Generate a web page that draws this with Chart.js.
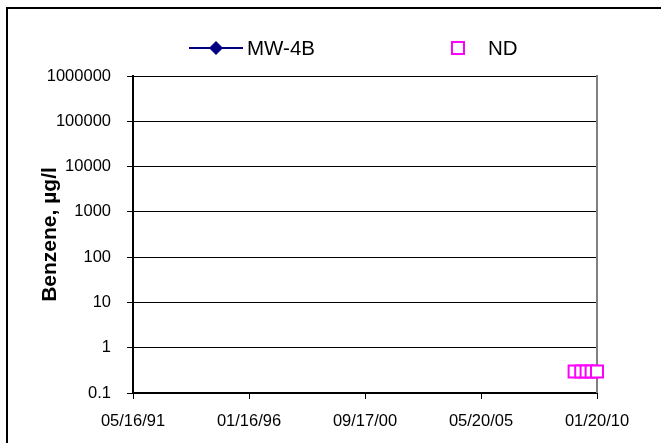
<!DOCTYPE html>
<html>
<head>
<meta charset="utf-8">
<script src="https://cdn.jsdelivr.net/npm/chart.js@4.4.1/dist/chart.umd.min.js"></script>
<style>
  body { margin: 0; background: #fff; overflow: hidden; }
  .frame { position: absolute; left: 6px; top: 7px; width: 700px; height: 500px; border: 2px solid #000; }
  .wrap { position: absolute; left: 0; top: 0; width: 661px; height: 443px; }
</style>
</head>
<body>
<div class="frame"></div>
<div class="wrap"><canvas id="myChart"></canvas></div>
<script>
// data
const xTickLabels = ['05/16/91', '01/16/96', '09/17/00', '05/20/05', '01/20/10'];
const yTickValues = [0.1, 1, 10, 100, 1000, 10000, 100000, 1000000];
const mw4bDates = [];
const mw4bValues = [];
const ndDates = ['02/25/09', '06/02/09', '08/20/09', '11/02/09', '01/20/10'];
const ndValues = [0.3, 0.3, 0.3, 0.3, 0.3];

const fontFamily = '"Liberation Sans", Arial, sans-serif';

// 'MM/DD/YY' -> day number
function toDay(s) {
    let p = s.split('/').map(Number);
    let year = p[2] < 50 ? 2000 + p[2] : 1900 + p[2];
    return Date.UTC(year, p[0] - 1, p[1]) / 86400000;
}

function points(dates, values) {
    return dates.map((d, i) => ({ x: toDay(d), y: values[i] }));
}

// gray right edge of the plot area
const plotBorder = {
    id: 'plotBorder',
    beforeDatasetsDraw(chart) {
        const { ctx, chartArea } = chart;
        ctx.save();
        ctx.strokeStyle = '#808080';
        ctx.lineWidth = 2;
        ctx.beginPath();
        ctx.moveTo(chartArea.right, chartArea.top - 1);
        ctx.lineTo(chartArea.right, chartArea.bottom);
        ctx.stroke();
        ctx.restore();
    }
};

// legend: line with diamond, and hollow square
const legendBox = {
    id: 'legendBox',
    afterDraw(chart) {
        const ctx = chart.ctx;
        const mw = chart.data.datasets[0];
        const nd = chart.data.datasets[1];
        const y = 48;
        ctx.save();
        ctx.strokeStyle = mw.borderColor;
        ctx.lineWidth = 2;
        ctx.beginPath();
        ctx.moveTo(189, y);
        ctx.lineTo(243, y);
        ctx.stroke();
        ctx.fillStyle = mw.pointBackgroundColor;
        ctx.beginPath();
        ctx.moveTo(216, y - 7);
        ctx.lineTo(223, y);
        ctx.lineTo(216, y + 7);
        ctx.lineTo(209, y);
        ctx.closePath();
        ctx.fill();

        ctx.strokeStyle = nd.pointBorderColor;
        ctx.lineWidth = 2;
        ctx.strokeRect(452, y - 6, 12, 12);

        ctx.fillStyle = '#000';
        ctx.font = '20.5px ' + fontFamily;
        ctx.textBaseline = 'middle';
        ctx.fillText(mw.label, 247, y + 1);
        ctx.fillText(nd.label, 488, y + 1);
        ctx.restore();
    }
};

let ctx = document.getElementById('myChart').getContext('2d');
let chart = new Chart(ctx, {
    type: 'line',
    data: {
        datasets: [{
            label: 'MW-4B',
            data: points(mw4bDates, mw4bValues),
            borderColor: '#000080',
            pointBackgroundColor: '#000080',
            pointBorderColor: '#000080',
            pointStyle: 'rectRot',
            pointRadius: 6,
            borderWidth: 2
        }, {
            label: 'ND',
            data: points(ndDates, ndValues),
            showLine: false,
            clip: false,
            pointStyle: 'rect',
            pointRadius: 8.5,
            pointBorderWidth: 2,
            pointBorderColor: '#ff00ff',
            pointBackgroundColor: '#ffffff'
        }]
    },
    options: {
        responsive: true,
        maintainAspectRatio: false,
        animation: false,
        layout: { padding: { left: 0, top: 76, right: 64, bottom: 0 } },
        plugins: { legend: { display: false }, tooltip: { enabled: false } },
        scales: {
            x: {
                type: 'linear',
                min: toDay(xTickLabels[0]),
                max: toDay(xTickLabels[xTickLabels.length - 1]),
                afterBuildTicks: s => { s.ticks = xTickLabels.map(l => ({ value: toDay(l) })); },
                afterFit: s => { s.height = 50; },
                grid: { drawOnChartArea: false, color: '#000', tickLength: 6, lineWidth: 1 },
                border: { color: '#000', width: 2 },
                ticks: {
                    autoSkip: false,
                    maxRotation: 0,
                    padding: 13,
                    color: '#000',
                    font: { family: fontFamily, size: 16.5 },
                    callback: (v, i) => xTickLabels[i]
                }
            },
            y: {
                type: 'logarithmic',
                min: 0.1,
                max: 1000000,
                afterBuildTicks: s => { s.ticks = yTickValues.map(v => ({ value: v })); },
                afterFit: s => { s.width = 133; },
                grid: { color: '#000', tickLength: 6, lineWidth: 1 },
                border: { color: '#000', width: 2 },
                ticks: {
                    autoSkip: false,
                    padding: 16,
                    color: '#000',
                    font: { family: fontFamily, size: 16.5 },
                    callback: v => String(v)
                },
                title: {
                    display: true,
                    text: 'Benzene, µg/l',
                    color: '#000',
                    font: { family: fontFamily, size: 21, weight: 'bold' },
                    padding: { top: 38, bottom: 0 }
                }
            }
        }
    },
    plugins: [plotBorder, legendBox]
});
</script>
</body>
</html>
